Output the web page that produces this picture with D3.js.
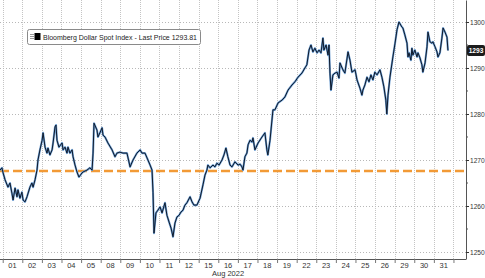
<!DOCTYPE html>
<html>
<head>
<meta charset="utf-8">
<script src="https://cdn.jsdelivr.net/npm/d3@7"></script>
<style>
  body { margin: 0; background: #fff; }
  text { font-family: "Liberation Sans", "DejaVu Sans", sans-serif; }
</style>
</head>
<body>
<div id="chart"></div>
<script>
// trading days in Aug 2022 (x axis labels)
var dayLabels = ["01","02","03","04","05","08","09","10","11","12","15","16","17","18","19","22","23","24","25","26","29","30","31"];

// intraday trace: position in trading days (0 = start of Aug 01) and price
var times = [
	-0.14,-0.04,0.02,0.12,0.27,0.37,0.47,0.53,0.63,0.73,0.78,0.88,0.98,1.04,1.14,1.24,1.39,1.49,1.55,1.65,
	1.75,1.80,1.90,2.01,2.06,2.16,2.26,2.31,2.41,2.52,2.57,2.67,2.72,2.77,2.87,3.03,3.08,3.18,3.28,3.33,
	3.43,3.54,3.59,3.69,3.79,3.89,4.05,4.10,4.30,4.45,4.56,4.61,4.66,4.81,4.86,4.96,5.07,5.12,5.22,5.37,
	5.58,5.73,5.83,5.98,6.14,6.34,6.50,6.65,6.85,7.01,7.11,7.26,7.41,7.52,7.62,7.67,7.72,7.82,7.92,8.03,
	8.13,8.28,8.38,8.49,8.59,8.69,8.79,8.89,9.00,9.10,9.20,9.30,9.40,9.56,9.66,9.76,9.91,10.07,10.22,10.32,
	10.42,10.47,10.58,10.73,10.83,10.93,11.04,11.19,11.29,11.39,11.49,11.60,11.70,11.85,12.01,12.11,12.21,12.26,12.36,12.46,
	12.52,12.62,12.72,12.77,12.87,13.03,13.23,13.38,13.48,13.53,13.64,13.79,13.89,14.05,14.25,14.40,14.56,14.76,14.91,15.07,
	15.27,15.42,15.52,15.63,15.73,15.83,15.93,16.04,16.14,16.24,16.34,16.39,16.50,16.60,16.65,16.70,16.75,16.85,16.96,17.06,
	17.16,17.21,17.36,17.46,17.62,17.72,17.82,17.98,18.08,18.23,18.33,18.38,18.48,18.59,18.69,18.79,18.89,18.99,19.10,19.25,
	19.35,19.45,19.55,19.60,19.66,19.76,19.91,20.02,20.12,20.22,20.37,20.42,20.52,20.63,20.68,20.73,20.83,20.88,20.93,21.03,
	21.14,21.19,21.29,21.39,21.44,21.55,21.65,21.70,21.80,21.90,21.95,22.06,22.16,22.21,22.31,22.41,22.47,22.57,22.67,22.72
];
var prices = [
	1267.8,1268.3,1267.2,1265.7,1264.1,1265.0,1262.8,1261.3,1263.9,1262.0,1263.5,1261.7,1263.0,1261.3,1260.9,1262.0,1264.1,1265.0,1264.1,1265.7,
	1267.8,1270.0,1272.2,1274.3,1275.9,1272.8,1271.5,1272.6,1271.1,1272.2,1273.7,1277.2,1277.6,1274.3,1272.8,1273.7,1272.2,1272.8,1271.5,1272.8,
	1271.5,1272.2,1270.7,1268.9,1267.4,1266.3,1267.2,1267.4,1267.8,1268.3,1267.8,1271.5,1278.0,1276.5,1275.0,1275.9,1277.0,1275.4,1275.0,1273.7,
	1272.2,1270.7,1271.5,1271.7,1271.5,1271.5,1268.5,1270.0,1271.5,1272.2,1271.5,1271.5,1270.0,1268.9,1267.8,1263.0,1254.1,1258.5,1259.1,1259.8,
	1258.5,1260.7,1258.0,1256.5,1255.2,1253.3,1256.3,1257.6,1258.0,1258.7,1259.1,1260.2,1260.7,1262.0,1260.9,1260.2,1260.2,1261.7,1264.6,1266.7,
	1267.8,1268.9,1268.3,1268.9,1268.5,1269.3,1268.9,1270.0,1271.1,1272.6,1270.7,1268.9,1268.5,1269.6,1268.9,1269.1,1268.5,1267.8,1270.7,1271.5,
	1273.3,1274.3,1273.9,1274.8,1272.2,1273.7,1275.0,1275.9,1272.2,1271.1,1274.3,1280.9,1280.9,1282.4,1283.0,1283.7,1285.2,1286.3,1287.0,1288.0,
	1288.9,1290.0,1290.7,1293.9,1295.0,1293.5,1294.3,1293.3,1293.9,1293.3,1296.5,1293.9,1295.0,1292.8,1295.0,1288.9,1285.2,1288.5,1288.9,1289.1,
	1287.8,1291.1,1289.6,1288.9,1293.5,1291.7,1289.1,1289.6,1287.4,1285.6,1284.1,1285.2,1286.3,1288.0,1287.0,1288.5,1287.4,1289.1,1288.5,1289.6,
	1288.0,1285.9,1283.0,1280.0,1284.1,1288.0,1292.4,1295.4,1298.3,1300.0,1298.9,1298.7,1297.2,1295.4,1292.4,1293.3,1291.7,1294.3,1292.8,1293.9,
	1292.4,1293.3,1292.2,1290.7,1289.1,1291.1,1294.6,1297.8,1295.7,1295.4,1295.7,1294.6,1293.5,1292.4,1293.3,1296.5,1298.7,1297.8,1296.7,1293.8
];

var majorTicks = [1250, 1260, 1270, 1280, 1290, 1300];
var minorTicks = [1255, 1265, 1275, 1285, 1295];
var refLevel   = 1267.6;
var lastPrice  = 1293.81;
var legendText = "Bloomberg Dollar Spot Index - Last Price 1293.81";

var width  = 485,
	height = 278,
	plotW  = 466,
	plotH  = 259;

var data = times.map(function(t, i) { return {t: t, v: prices[i]}; });

var x = d3.scaleLinear().domain([-0.138, 23.64]).range([0, plotW]);
var y = d3.scaleLinear().domain([1248.48, 1304.78]).range([plotH, 0]);

var svg = d3.select("#chart").append("svg")
	.attr("width", width)
	.attr("height", height);

// vertical day separators
svg.append("g").selectAll("line")
	.data(d3.range(0, dayLabels.length + 1))
	.enter().append("line")
	.attr("x1", function(d) { return Math.round(x(d)) + 0.5; })
	.attr("x2", function(d) { return Math.round(x(d)) + 0.5; })
	.attr("y1", 0).attr("y2", plotH)
	.attr("stroke", "#c4c4c4")
	.attr("stroke-dasharray", "1,1");

// horizontal grid
svg.append("g").selectAll("line")
	.data(majorTicks)
	.enter().append("line")
	.attr("x1", 0).attr("x2", plotW)
	.attr("y1", function(d) { return Math.round(y(d)) + 0.5; })
	.attr("y2", function(d) { return Math.round(y(d)) + 0.5; })
	.attr("stroke", "#b8b8b8")
	.attr("stroke-dasharray", "1,2");

// orange reference line
svg.append("line")
	.attr("x1", 0).attr("x2", plotW)
	.attr("y1", y(refLevel)).attr("y2", y(refLevel))
	.attr("stroke", "#f29a36")
	.attr("stroke-width", 2.6)
	.attr("stroke-dasharray", "9,4");

// price line: blue glow under dark line
var line = d3.line()
	.x(function(d) { return x(d.t); })
	.y(function(d) { return y(d.v); });

svg.append("path")
	.datum(data)
	.attr("d", line)
	.attr("fill", "none")
	.attr("stroke", "#6f9fd2")
	.attr("stroke-width", 2.1)
	.attr("stroke-linejoin", "round");

svg.append("path")
	.datum(data)
	.attr("d", line)
	.attr("fill", "none")
	.attr("stroke", "#0e1a2c")
	.attr("stroke-width", 1)
	.attr("stroke-linejoin", "round");

// bottom axis
var xAxis = svg.append("g")
	.attr("transform", "translate(0," + plotH + ")")
	.call(d3.axisBottom(x).tickValues(d3.range(0, dayLabels.length + 1)).tickFormat("").tickSize(4).tickSizeOuter(0));
xAxis.select(".domain").attr("stroke", "#555").attr("d", "M0,0.5H" + plotW);
xAxis.selectAll(".tick line").attr("stroke", "#777");

svg.append("g").selectAll("text")
	.data(dayLabels)
	.enter().append("text")
	.attr("x", function(d, i) { return x(i + 0.5); })
	.attr("y", 268)
	.attr("text-anchor", "middle")
	.attr("font-size", 7.5)
	.attr("fill", "#333")
	.text(function(d) { return d; });

svg.append("text")
	.attr("x", x(11.5))
	.attr("y", 276)
	.attr("text-anchor", "middle")
	.attr("font-size", 7.5)
	.attr("fill", "#333")
	.text("Aug 2022");

// right axis
var yAxis = svg.append("g")
	.attr("transform", "translate(" + plotW + ",0)")
	.call(d3.axisRight(y).tickValues(majorTicks).tickFormat(d3.format("d"))
		.tickSize(3).tickPadding(1).tickSizeOuter(0));
yAxis.select(".domain").attr("stroke", "#555");
yAxis.selectAll(".tick line").attr("stroke", "#333");
yAxis.selectAll(".tick text")
	.attr("font-size", 6.6)
	.attr("fill", "#333")
	.style("font-family", "'Liberation Sans', sans-serif");

yAxis.selectAll(".minor")
	.data(minorTicks)
	.enter().append("line")
	.attr("class", "minor")
	.attr("x1", 0).attr("x2", 2)
	.attr("y1", function(d) { return y(d); })
	.attr("y2", function(d) { return y(d); })
	.attr("stroke", "#555");

// last price tag
var tag = svg.append("g").attr("transform", "translate(467," + y(lastPrice) + ")");
tag.append("rect")
	.attr("x", 0).attr("y", -5.5)
	.attr("width", 18).attr("height", 11)
	.attr("rx", 2)
	.attr("fill", "#1c1c1c");
tag.append("text")
	.attr("x", 9).attr("y", 2.5)
	.attr("text-anchor", "middle")
	.attr("font-size", 6.6)
	.attr("font-weight", "bold")
	.attr("fill", "#fff")
	.text(Math.floor(lastPrice));

// legend
var legend = svg.append("g").attr("transform", "translate(27,29)");
legend.append("rect")
	.attr("x", 0.5).attr("y", 0.5)
	.attr("width", 173).attr("height", 15)
	.attr("rx", 2)
	.attr("fill", "#fff")
	.attr("stroke", "#8a8a8a");
legend.selectAll(".bar")
	.data([0, 1, 2])
	.enter().append("line")
	.attr("x1", 3).attr("x2", 7)
	.attr("y1", function(d) { return 5.5 + d * 2; })
	.attr("y2", function(d) { return 5.5 + d * 2; })
	.attr("stroke", "#999");
legend.append("rect")
	.attr("x", 7.5).attr("y", 4)
	.attr("width", 6).attr("height", 7)
	.attr("fill", "#000");
legend.append("text")
	.attr("x", 16).attr("y", 10.5)
	.attr("font-size", 7.5)
	.attr("fill", "#222")
	.attr("textLength", 154)
	.attr("lengthAdjust", "spacingAndGlyphs")
	.text(legendText);
</script>
</body>
</html>
